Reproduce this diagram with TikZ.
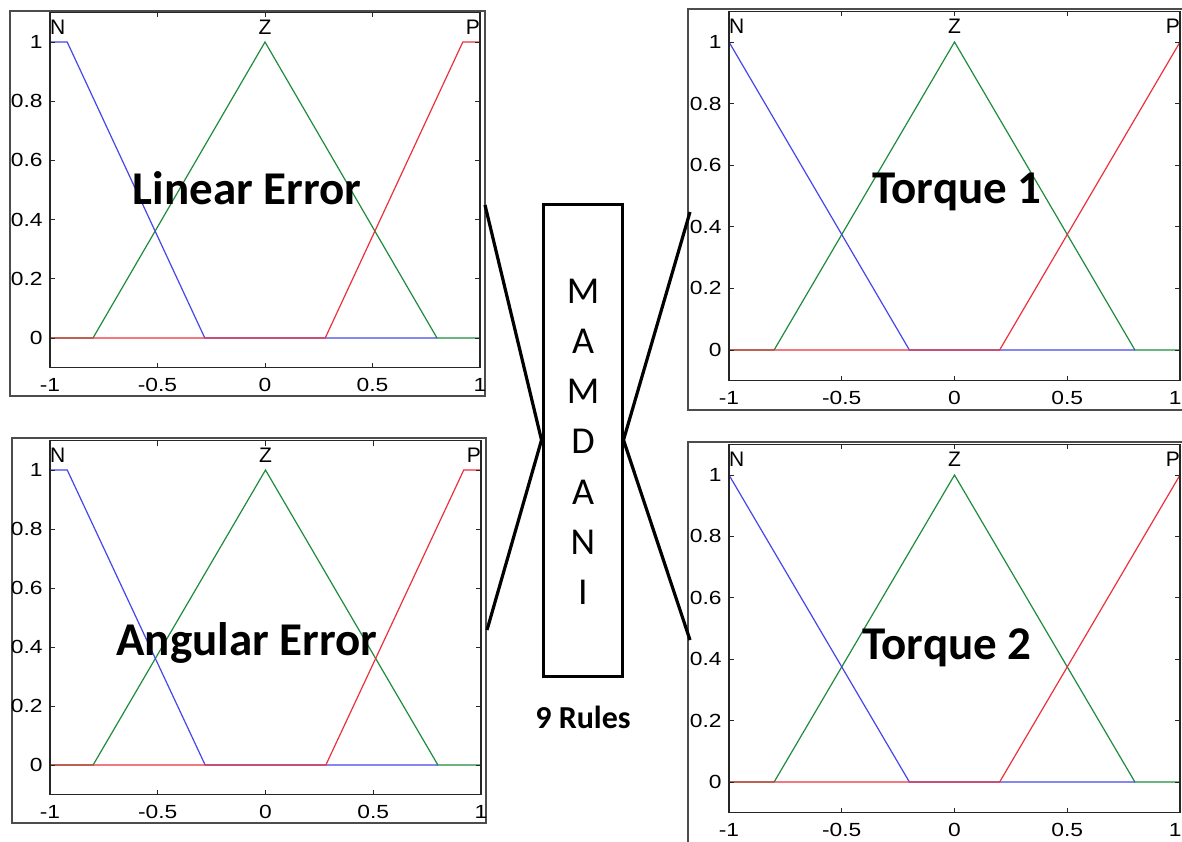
\documentclass[tikz,border=0pt]{standalone}
\usepackage{fontspec}
\newfontfamily\plotfont{Liberation Sans}
\newfontfamily\calfont{Carlito}
\definecolor{mfblue}{RGB}{70,70,235}
\definecolor{mfgreen}{RGB}{30,140,60}
\definecolor{mfred}{RGB}{235,50,60}
\tikzset{
  mfline/.style={line width=1.2pt},
  axisline/.style={line width=1.3pt, draw=black!85},
  frameline/.style={line width=1.2pt, draw=black!70},
  ticklab/.style={inner sep=0pt, font=\plotfont\fontsize{19}{19}\selectfont, xscale=1.2},
  mflab/.style={inner sep=0pt, font=\plotfont\fontsize{21}{21}\selectfont},
  biglab/.style={inner sep=0pt, font=\calfont\bfseries\fontsize{47}{47}\selectfont},
  mamlet/.style={inner sep=0pt, font=\calfont\fontsize{38}{38}\selectfont},
  mambox/.style={draw, line width=3pt, minimum width=79pt, minimum height=472pt, inner sep=0pt},
  connector/.style={line width=3.2pt}
}
% #1 xL, #2 xR, #3 y0, #4 y1, #5 shoulder, #6 foot, #7 name prefix, #8 anchor of last x label
\newcommand\mfplot[8]{%
  \pgfmathsetmacro\mfsx{(#2-#1)/2}%
  \pgfmathsetmacro\mfcx{(#2+#1)/2}%
  \pgfmathsetmacro\mfsy{#3-#4}%
  \begin{scope}[shift={(\mfcx,#3)}, x=\mfsx pt, y=\mfsy pt]
    \draw[mfgreen, mfline] (-1,0) -- (-0.8,0) -- (0,1) -- (0.8,0) -- (1,0);
    \draw[mfblue, mfline] (-1,1) -- (-#5,1) -- (-#6,0) -- (0.8,0);
    \draw[mfred, mfline] (-1,0) -- (#6,0) -- (#5,1) -- (1,1);
    \draw[axisline] (-1,-0.1) rectangle (1,1.1);
    \foreach \x in {-0.5,0,0.5}{
      \draw[axisline, line width=1pt] (\x,-0.1) -- ++(0pt,5pt);
      \draw[axisline, line width=1pt] (\x,1.1) -- ++(0pt,-5pt);
    }
    \foreach \y in {0,0.2,0.4,0.6,0.8,1}{
      \draw[axisline, line width=1pt] (-1,\y) -- ++(5pt,0pt);
      \draw[axisline, line width=1pt] (1,\y) -- ++(-5pt,0pt);
    }
    \foreach \x/\t [count=\i] in {-1/-1,-0.5/-0.5,0/0,0.5/0.5}{
      \node[ticklab, yshift=-17pt] (#7-xl-\i) at (\x,-0.1) {\t};
    }
    \node[ticklab, yshift=-17pt, #8] (#7-xl-5) at (1,-0.1) {1};
    \foreach \y/\t [count=\i] in {0/0,0.2/0.2,0.4/0.4,0.6/0.6,0.8/0.8,1/1}{
      \node[ticklab, anchor=east, xshift=-6pt] (#7-yl-\i) at (-1,\y) {\t};
    }
    \node[mflab, anchor=west] (#7-N) at (-1,1.05) {N};
    \node[mflab] (#7-Z) at (0,1.05) {Z};
    \node[mflab, anchor=east] (#7-P) at (1,1.05) {P};
  \end{scope}}
\begin{document}
\begin{tikzpicture}[x=1pt, y=-1pt]
  \useasboundingbox (0,0) rectangle (1182,841);
  \fill[white] (0,0) rectangle (1182,841);
  % frames
  \draw[frameline] (10,11) rectangle (485,396);
  \draw[frameline] (12,438) rectangle (486,823);
  \draw[frameline] (688,9) rectangle (1195,410);
  \draw[frameline] (688,442) rectangle (1195,860);
  % plots
  \mfplot{50}{480}{338}{42}{0.92}{0.28}{le}{anchor=center}
  \mfplot{50}{481}{765}{470}{0.92}{0.28}{ae}{anchor=center}
  \mfplot{729}{1180}{350}{42}{1}{0.2}{tq1}{anchor=east, xshift=1.5pt}
  \mfplot{729}{1180}{782}{475}{1}{0.2}{tq2}{anchor=east, xshift=1.5pt}
  % big labels
  \node[biglab] (linerr) at (247,188) {Linear Error};
  \node[biglab] (angerr) at (247,643) {Angular Error};
  \node[biglab] (torq1) at (957,192) {Torque 1};
  \node[biglab] (torq2) at (947,648) {Torque 2};
  % Mamdani box
  \node[mambox] (mam) at (582.5,440) {};
  \foreach \l [count=\i] in {M,A,M,D,A,N,I}{
    \node[mamlet] (mam-\i) at (583,{291+50.2*(\i-1)}) {\l};
  }
  \node[inner sep=0pt, font=\calfont\bfseries\fontsize{32}{32}\selectfont] (rules) at (583,717) {9 Rules};
  % connectors
  \coordinate (tlR) at (485,205);
  \coordinate (blR) at (487,630);
  \coordinate (trL) at (690,212);
  \coordinate (brL) at (690,640);
  \draw[connector] (tlR) -- (mam.west) -- (blR);
  \draw[connector] (trL) -- (mam.east) -- (brL);
\end{tikzpicture}
\end{document}
